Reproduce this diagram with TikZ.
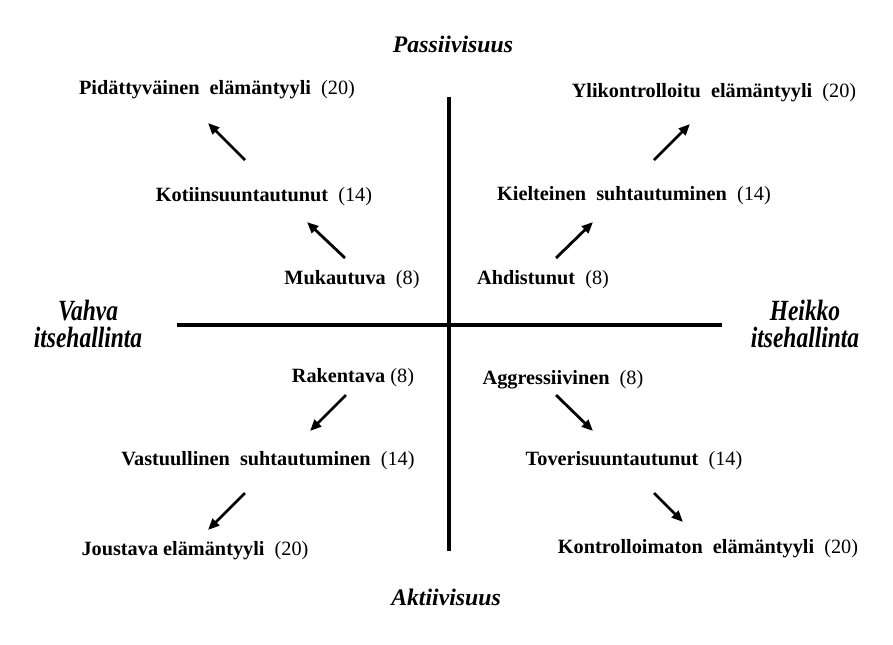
\documentclass[tikz,border=0pt]{standalone}
\usepackage{fontspec}
\setmainfont{Liberation Serif}
\newfontfamily\axisfont[FakeStretch=0.8]{Liberation Serif}
\usetikzlibrary{arrows.meta}
\begin{document}
\begin{tikzpicture}[x=0.75pt,y=-0.75pt,
  lbl/.style={inner sep=0pt,yshift=-1.5pt,font=\fontsize{15.2}{18}\selectfont},
  axlbl/.style={inner sep=0pt,align=center,font=\fontsize{17.8}{22}\selectfont\bfseries\itshape},
  sidelbl/.style={inner sep=0pt,align=center,font=\axisfont\fontsize{22}{20.5}\selectfont\bfseries\itshape},
  axis/.style={line width=2.3pt},
  arr/.style={line width=2.1pt,-{Triangle[length=8.5pt,width=7pt]}}]
\useasboundingbox (0,0) rectangle (893,644);
% axes
\coordinate (vt) at (449,97);
\coordinate (vb) at (449,551);
\coordinate (hl) at (177,325);
\coordinate (hr) at (722,325);
\draw[axis] (vt) -- (vb);
\draw[axis] (hl) -- (hr);
% axis labels
\node[axlbl] (pas) at (453,44) {Passiivisuus};
\node[axlbl] (akt) at (446,597) {Aktiivisuus};
\node[sidelbl] (vah) at (88,324) {Vahva\\itsehallinta};
\node[sidelbl] (hei) at (805,324) {Heikko\\itsehallinta};
% labels
\node[lbl] (pid) at (217,88) {\textbf{Pidättyväinen\ \ elämäntyyli}\ \ (20)};
\node[lbl] (kot) at (264,195) {\textbf{Kotiinsuuntautunut}\ \ (14)};
\node[lbl] (muk) at (352,278) {\textbf{Mukautuva}\ \ (8)};
\node[lbl] (yli) at (714,91) {\textbf{Ylikontrolloitu\ \ elämäntyyli}\ \ (20)};
\node[lbl] (kie) at (634,194) {\textbf{Kielteinen\ \ suhtautuminen}\ \ (14)};
\node[lbl] (ahd) at (543,278) {\textbf{Ahdistunut}\ \ (8)};
\node[lbl] (rak) at (353,376) {\textbf{Rakentava} (8)};
\node[lbl] (vas) at (268,459) {\textbf{Vastuullinen\ \ suhtautuminen}\ \ (14)};
\node[lbl] (jou) at (195,549) {\textbf{Joustava elämäntyyli}\ \ (20)};
\node[lbl] (agg) at (563,378) {\textbf{Aggressiivinen}\ \ (8)};
\node[lbl] (tov) at (634,459) {\textbf{Toverisuuntautunut}\ \ (14)};
\node[lbl] (kon) at (708,547) {\textbf{Kontrolloimaton\ \ elämäntyyli}\ \ (20)};
% arrow end points
\coordinate (a1s) at (245,160); \coordinate (a1e) at (208,123);
\coordinate (a2s) at (345,258); \coordinate (a2e) at (307,222);
\coordinate (a3s) at (556,258); \coordinate (a3e) at (593,222);
\coordinate (a4s) at (654,160); \coordinate (a4e) at (690,124);
\coordinate (a5s) at (346,395); \coordinate (a5e) at (310,431);
\coordinate (a6s) at (245,493); \coordinate (a6e) at (208,530);
\coordinate (a7s) at (556,395); \coordinate (a7e) at (593,431);
\coordinate (a8s) at (654,493); \coordinate (a8e) at (683,522);
\foreach \i in {1,...,8} \draw[arr] (a\i s) -- (a\i e);
\end{tikzpicture}
\end{document}
